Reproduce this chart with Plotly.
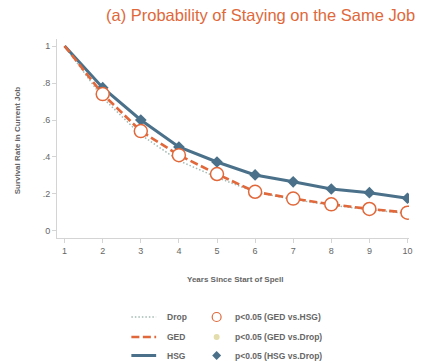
import plotly.graph_objects as go

years = [1, 2, 3, 4, 5, 6, 7, 8, 9, 10]
drop = [1.0, 0.72, 0.52, 0.38, 0.29, 0.21, 0.17, 0.14, 0.115, 0.095]
ged = [1.0, 0.74, 0.54, 0.41, 0.308, 0.212, 0.175, 0.144, 0.119, 0.099]
hsg = [1.0, 0.775, 0.60, 0.454, 0.373, 0.303, 0.266, 0.227, 0.207, 0.177]
ytick_vals = [0, 0.2, 0.4, 0.6, 0.8, 1]
ytick_text = ["0", ".2", ".4", ".6", ".8", "1"]

ORANGE = "#e0683a"
BLUE = "#4a7189"
DROPC = "#a3bab3"
YEL = "#e2ddaa"
GREY = "#666666"
FONT = "Liberation Sans"

W, H = 423, 363
L, R, T, B = 57, 412, 39, 238

GED_DASH = "8px,3.5px"
DROP_DASH = "1.5px,2px"


def px(x):
    return (x - L) / (R - L)


def py(y):
    return (B - y) / (B - T)


fig = go.Figure()
fig.add_trace(go.Scatter(x=years, y=drop, mode="lines",
                         line=dict(color=DROPC, width=1.5, dash=DROP_DASH), showlegend=False))
fig.add_trace(go.Scatter(x=years, y=hsg, mode="lines", line=dict(color=BLUE, width=3),
                         showlegend=False))
fig.add_trace(go.Scatter(x=years[1:], y=hsg[1:], mode="markers",
                         marker=dict(symbol="diamond", size=9, color=BLUE), showlegend=False))
fig.add_trace(go.Scatter(x=years, y=ged, mode="lines",
                         line=dict(color=ORANGE, width=2.6, dash=GED_DASH), showlegend=False))
fig.add_trace(go.Scatter(x=years[1:], y=ged[1:], mode="markers",
                         marker=dict(symbol="circle", size=13, color="white",
                                     line=dict(color=ORANGE, width=1.5)), showlegend=False))

axis_common = dict(showline=True, linecolor="#d4d4d4", linewidth=1, ticks="outside",
                   tickcolor="#d4d4d4", ticklen=4, showgrid=False, zeroline=False,
                   tickfont=dict(family=FONT, size=9, color=GREY))

fig.update_xaxes(range=[0.8, 10.04], tickvals=years, **axis_common)
fig.update_yaxes(range=[-0.038, 1.038], tickvals=ytick_vals, ticktext=ytick_text, **axis_common)

anns = [
    dict(x=px(420), y=py(15), text="(a) Probability of Staying on the Same Job",
         xanchor="right", yanchor="middle",
         font=dict(family=FONT, size=16.5, color=ORANGE)),
    dict(x=px(17), y=py(140), text="<b>Survival Rate in Current Job</b>", textangle=-90,
         xanchor="center", yanchor="middle", font=dict(family=FONT, size=8, color=GREY)),
    dict(x=px(237), y=py(279), text="<b>Years Since Start of Spell</b>",
         xanchor="center", yanchor="middle", font=dict(family=FONT, size=8, color=GREY)),
]
rows = [317, 337, 355.5]
left_labels = ["Drop", "GED", "HSG"]
right_labels = ["p<0.05 (GED vs.HSG)", "p<0.05 (GED vs.Drop)", "p<0.05 (HSG vs.Drop)"]
for yy, lt, rt in zip(rows, left_labels, right_labels):
    anns.append(dict(x=px(166), y=py(yy), text="<b>" + lt + "</b>", xanchor="left",
                     yanchor="middle", font=dict(family=FONT, size=8.5, color=GREY)))
    anns.append(dict(x=px(235), y=py(yy), text="<b>" + rt + "</b>", xanchor="left",
                     yanchor="middle", font=dict(family=FONT, size=8.5, color=GREY)))
for a in anns:
    a.update(xref="paper", yref="paper", showarrow=False)

shapes = [
    dict(type="line", x0=px(132), x1=px(157), y0=py(rows[0]), y1=py(rows[0]),
         line=dict(color=DROPC, width=1.5, dash=DROP_DASH)),
    dict(type="line", x0=px(132), x1=px(157), y0=py(rows[1]), y1=py(rows[1]),
         line=dict(color=ORANGE, width=2.6, dash=GED_DASH)),
    dict(type="line", x0=px(132), x1=px(157), y0=py(rows[2]), y1=py(rows[2]),
         line=dict(color=BLUE, width=3)),
    dict(type="circle", x0=px(213.5), x1=px(222.5), y0=py(rows[0] + 4.5), y1=py(rows[0] - 4.5),
         line=dict(color=ORANGE, width=1.2), fillcolor="white"),
    dict(type="circle", x0=px(215), x1=px(221), y0=py(rows[1] + 3), y1=py(rows[1] - 3),
         line=dict(color=YEL, width=0), fillcolor=YEL),
]
cx, cy = 218, rows[2]
d = 4.5
path = "M {} {} L {} {} L {} {} L {} {} Z".format(
    px(cx), py(cy - d), px(cx + d), py(cy), px(cx), py(cy + d), px(cx - d), py(cy))
shapes.append(dict(type="path", path=path, fillcolor=BLUE, line=dict(color=BLUE, width=0)))
for s in shapes:
    s.update(xref="paper", yref="paper")

fig.update_layout(
    width=W, height=H,
    margin=dict(l=L, r=W - R, t=T, b=H - B),
    paper_bgcolor="white", plot_bgcolor="white",
    annotations=anns, shapes=shapes, showlegend=False,
)

fig.write_html("out.html", config={"displayModeBar": False},
               post_script="document.body.style.margin='0';document.body.style.padding='0';"
                           "document.body.style.overflow='hidden';")
